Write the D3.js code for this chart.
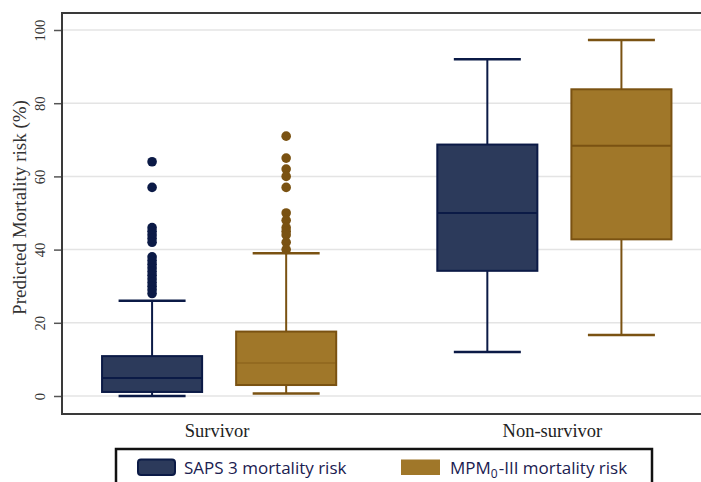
<!DOCTYPE html>
<html>
<head>
<meta charset="utf-8">
<script src="https://cdn.jsdelivr.net/npm/d3@7"></script>
<style>
  body { margin: 0; background: #fff; }
</style>
</head>
<body>
<div id="chart"></div>
<script>
// groups on the x axis and the two risk scores
const groups = ["Survivor", "Non-survivor"];
const series = ["SAPS 3 mortality risk", "MPM0-III mortality risk"];
const yTicks = [0, 20, 40, 60, 80, 100];

// box stats per group: [lower whisker, q1, median, q3, upper whisker]
const sapsBox = [[0, 1.1, 4.9, 10.9, 26], [12, 34.2, 50, 68.7, 92]];
const mpmBox = [[0.7, 3, 9, 17.6, 39], [16.7, 42.8, 68.4, 83.8, 97.3]];

// outside values per group
const sapsOutliers = [[64, 57, 46, 45, 44, 43, 42, 38, 37, 36, 35, 34, 33, 32, 31, 30, 29, 28], []];
const mpmOutliers = [[71, 65, 62, 60, 57, 50, 48, 46, 45, 44, 42, 40], []];

const colors = {
  fill: ["#2c3a5b", "#a07729"],
  stroke: ["#0b1a46", "#7a5212"]
};

const W = 701, H = 482;
const margin = {top: 13, bottom: 68, left: 62};

const svg = d3.select("#chart")
  .append("svg")
  .attr("width", W)
  .attr("height", H);

const y = d3.scaleLinear()
  .domain([0, 100])
  .range([396, 30]);

const x0 = d3.scaleBand()
  .domain(groups)
  .range([51.5, 722]);

const x1 = d3.scaleBand()
  .domain(series)
  .range([0, x0.bandwidth()])
  .paddingInner(0.2537)
  .paddingOuter(0.377);

// grid lines
svg.append("g")
  .selectAll("line")
  .data(yTicks)
  .join("line")
  .attr("x1", margin.left)
  .attr("x2", W)
  .attr("y1", d => y(d))
  .attr("y2", d => y(d))
  .attr("stroke", "#e4e4e4")
  .attr("stroke-width", 1.5);

// y axis
const yAxis = svg.append("g")
  .attr("transform", `translate(${margin.left},0)`)
  .call(d3.axisLeft(y).tickValues(yTicks).tickSize(8).tickPadding(0));
yAxis.select(".domain").remove();
yAxis.selectAll(".tick line").attr("stroke", "#555").attr("stroke-width", 1.5);
yAxis.selectAll(".tick text").remove();
yAxis.selectAll(".tick")
  .append("text")
  .attr("transform", "translate(-22,0) rotate(-90)")
  .attr("text-anchor", "middle")
  .attr("dy", "0.35em")
  .attr("fill", "#333")
  .style("font-family", "'Liberation Serif', serif")
  .style("font-size", "14.5px")
  .text(d => d);

// frame: left, top, bottom
svg.append("path")
  .attr("d", `M${W},${margin.top}H${margin.left}V${H - margin.bottom}H${W}`)
  .attr("fill", "none")
  .attr("stroke", "#3a3a3a")
  .attr("stroke-width", 2);

// y title
svg.append("text")
  .attr("transform", `translate(19,${(margin.top + H - margin.bottom) / 2 - 6}) rotate(-90)`)
  .attr("text-anchor", "middle")
  .attr("dy", "0.35em")
  .attr("fill", "#333")
  .style("font-family", "'Liberation Serif', serif")
  .style("font-size", "19px")
  .text("Predicted Mortality risk (%)");

// group labels
svg.append("g")
  .selectAll("text")
  .data(groups)
  .join("text")
  .attr("x", d => x0(d) + x0.bandwidth() / 2 - 2)
  .attr("y", 437)
  .attr("text-anchor", "middle")
  .attr("fill", "#222")
  .style("font-family", "'Liberation Serif', serif")
  .style("font-size", "18.5px")
  .text(d => d);

// boxes
const boxData = [sapsBox, mpmBox];
const outData = [sapsOutliers, mpmOutliers];
const capW = 67;

series.forEach((s, si) => {
  const g = svg.append("g");
  groups.forEach((grp, gi) => {
    const [lo, q1, med, q3, hi] = boxData[si][gi];
    const cx = x0(grp) + x1(s) + x1.bandwidth() / 2;
    const bx = x0(grp) + x1(s);
    const st = colors.stroke[si];

    // whisker stems
    g.append("line")
      .attr("x1", cx).attr("x2", cx)
      .attr("y1", y(hi)).attr("y2", y(q3))
      .attr("stroke", st).attr("stroke-width", 2);
    g.append("line")
      .attr("x1", cx).attr("x2", cx)
      .attr("y1", y(q1)).attr("y2", y(lo))
      .attr("stroke", st).attr("stroke-width", 2);
    // caps
    [hi, lo].forEach(v => {
      g.append("line")
        .attr("x1", cx - capW / 2).attr("x2", cx + capW / 2)
        .attr("y1", y(v)).attr("y2", y(v))
        .attr("stroke", st).attr("stroke-width", 2.5);
    });
    // box
    g.append("rect")
      .attr("x", bx)
      .attr("y", y(q3))
      .attr("width", x1.bandwidth())
      .attr("height", y(q1) - y(q3))
      .attr("fill", colors.fill[si])
      .attr("stroke", st)
      .attr("stroke-width", 2);
    // median
    g.append("line")
      .attr("x1", bx).attr("x2", bx + x1.bandwidth())
      .attr("y1", y(med)).attr("y2", y(med))
      .attr("stroke", st)
      .attr("stroke-width", 2)
      .attr("stroke-opacity", si === 1 && gi === 0 ? 0.35 : 1);
    // outside values
    g.append("g")
      .selectAll("circle")
      .data(outData[si][gi])
      .join("circle")
      .attr("cx", cx)
      .attr("cy", d => y(d))
      .attr("r", 4.8)
      .attr("fill", st);
  });
});

// legend
const leg = svg.append("g");
leg.append("rect")
  .attr("x", 116)
  .attr("y", 449)
  .attr("width", 536)
  .attr("height", 50)
  .attr("fill", "#fff")
  .attr("stroke", "#111")
  .attr("stroke-width", 2.5);

const legX = [138, 401];
series.forEach((s, i) => {
  leg.append("rect")
    .attr("x", legX[i])
    .attr("y", 459.5)
    .attr("width", i === 0 ? 37 : 39)
    .attr("height", 15.5)
    .attr("rx", i === 0 ? 3 : 0)
    .attr("fill", colors.fill[i])
    .attr("stroke", i === 0 ? colors.stroke[i] : "none")
    .attr("stroke-width", 2);
  const t = leg.append("text")
    .attr("x", legX[i] + (i === 0 ? 46 : 49))
    .attr("y", 473.5)
    .attr("fill", "#1a2050")
    .style("font-family", "'Open Sans', sans-serif")
    .style("font-size", "17px");
  if (i === 0) {
    t.text(s);
  } else {
    t.append("tspan").text("MPM");
    t.append("tspan").attr("dy", 4).style("font-size", "12px").text("0");
    t.append("tspan").attr("dy", -4).attr("dx", 1).text("-III mortality risk");
  }
});
</script>
</body>
</html>
